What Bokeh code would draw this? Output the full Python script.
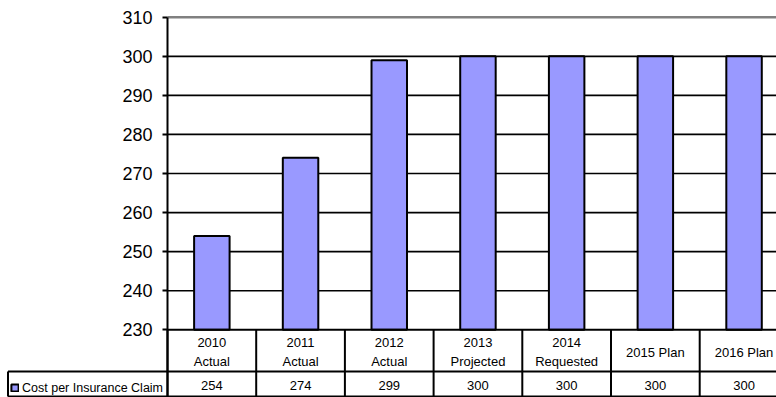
import numpy as np
from bokeh.plotting import figure
from bokeh.models import (Range1d, FixedTicker, ColumnDataSource, Legend, LegendItem,
                          LinearAxis)
from bokeh.core.properties import value
from bokeh.embed import file_html
from bokeh.resources import INLINE

# ---- data ----
categories = ["2010\nActual", "2011\nActual", "2012\nActual", "2013\nProjected",
              "2014\nRequested", "2015 Plan", "2016 Plan"]
values = [254, 274, 299, 300, 300, 300, 300]
series_name = "Cost per Insurance Claim"
y_ticks = [230, 240, 250, 260, 270, 280, 290, 300, 310]

BAR = "#9999FF"
SANS = "Liberation Sans"

W, H = 776, 397
AXIS_PX = 167           # pixel column of the value axis
PX_PER_CAT = 88.7
PXU = 3.9075            # pixels per value unit
AXIS_PY = 329.3         # pixel row of the category axis (value 230)

idx = np.arange(len(categories))
x_axis_loc = -0.5
x_end = x_axis_loc + (W - AXIS_PX) / PX_PER_CAT
x_start = x_end - W / PX_PER_CAT
y_end = y_ticks[0] + AXIS_PY / PXU
y_start = y_end - H / PXU


def below(py):
    """value coordinate of a pixel row inside the data table"""
    return y_ticks[0] - (py - AXIS_PY) / PXU


def xpx(px):
    """category coordinate of a pixel column"""
    return x_start + px / PX_PER_CAT


p = figure(width=W, height=H, output_backend="svg", toolbar_location=None,
           x_range=Range1d(x_start, x_end), y_range=Range1d(y_start, y_end),
           x_axis_location=None, y_axis_location=None,
           min_border=0, outline_line_color=None,
           background_fill_color="white", border_fill_color="white")
p.grid.visible = False

# gridlines (black) and top line (grey), from the axis to the right edge
grid_vals = y_ticks[1:-1]
p.segment(x0=[x_axis_loc] * len(grid_vals), y0=grid_vals,
          x1=[x_end + 1] * len(grid_vals), y1=grid_vals,
          line_color="black", line_width=1.7)
p.segment(x0=[x_axis_loc], y0=[y_ticks[-1]], x1=[x_end + 1], y1=[y_ticks[-1]],
          line_color="#808080", line_width=2.5)

yax = LinearAxis(fixed_location=x_axis_loc, ticker=FixedTicker(ticks=y_ticks),
                 bounds=(y_start, y_ticks[-1]))
yax.axis_line_color = "black"
yax.axis_line_width = 2
yax.major_tick_line_color = "black"
yax.major_tick_line_width = 2
yax.major_tick_out = 5
yax.major_tick_in = 0
yax.minor_tick_line_color = None
yax.major_label_standoff = 10
yax.major_label_text_font = SANS
yax.major_label_text_font_size = "18px"
yax.major_label_text_color = "black"
p.add_layout(yax, "left")

src = ColumnDataSource(dict(x=idx, top=values))
bars = p.vbar(x="x", top="top", bottom=y_ticks[0], width=0.4, source=src,
              fill_color=BAR, line_color="black", line_width=2)

# ---- data table ----
row_sep = below(371)
row_bottom = below(396)
leg_left = xpx(7.5)
edges = list(idx - 0.5) + [idx[-1] + 0.5]
p.segment(x0=edges, y0=[row_bottom] * len(edges), x1=edges, y1=[y_ticks[0]] * len(edges),
          line_color="black", line_width=2)
p.segment(x0=[x_axis_loc, leg_left, leg_left, leg_left],
          y0=[y_ticks[0], row_sep, row_bottom, row_bottom],
          x1=[x_end + 1, x_end + 1, x_end + 1, leg_left],
          y1=[y_ticks[0], row_sep, row_bottom, row_sep],
          line_color="black", line_width=2)

p.text(x=idx, y=[below(351.5)] * len(idx), text=categories, text_align="center",
       text_baseline="middle", text_font=value(SANS), text_font_size="13px",
       text_line_height=1.3, text_color="black")
p.text(x=idx, y=[below(385)] * len(idx), text=[str(v) for v in values], text_align="center",
       text_baseline="middle", text_font=value(SANS), text_font_size="13px",
       text_color="black")

legend = Legend(items=[LegendItem(label=series_name, renderers=[bars])],
                location=(10, 2), orientation="vertical", margin=0, padding=5,
                glyph_width=9, glyph_height=9, label_standoff=3,
                label_height=15, spacing=0,
                label_text_font=SANS, label_text_font_size="12.5px",
                label_text_color="black",
                border_line_color=None, background_fill_alpha=0.0)
p.add_layout(legend, "center")

open("out.html", "w").write(file_html(p, INLINE))
